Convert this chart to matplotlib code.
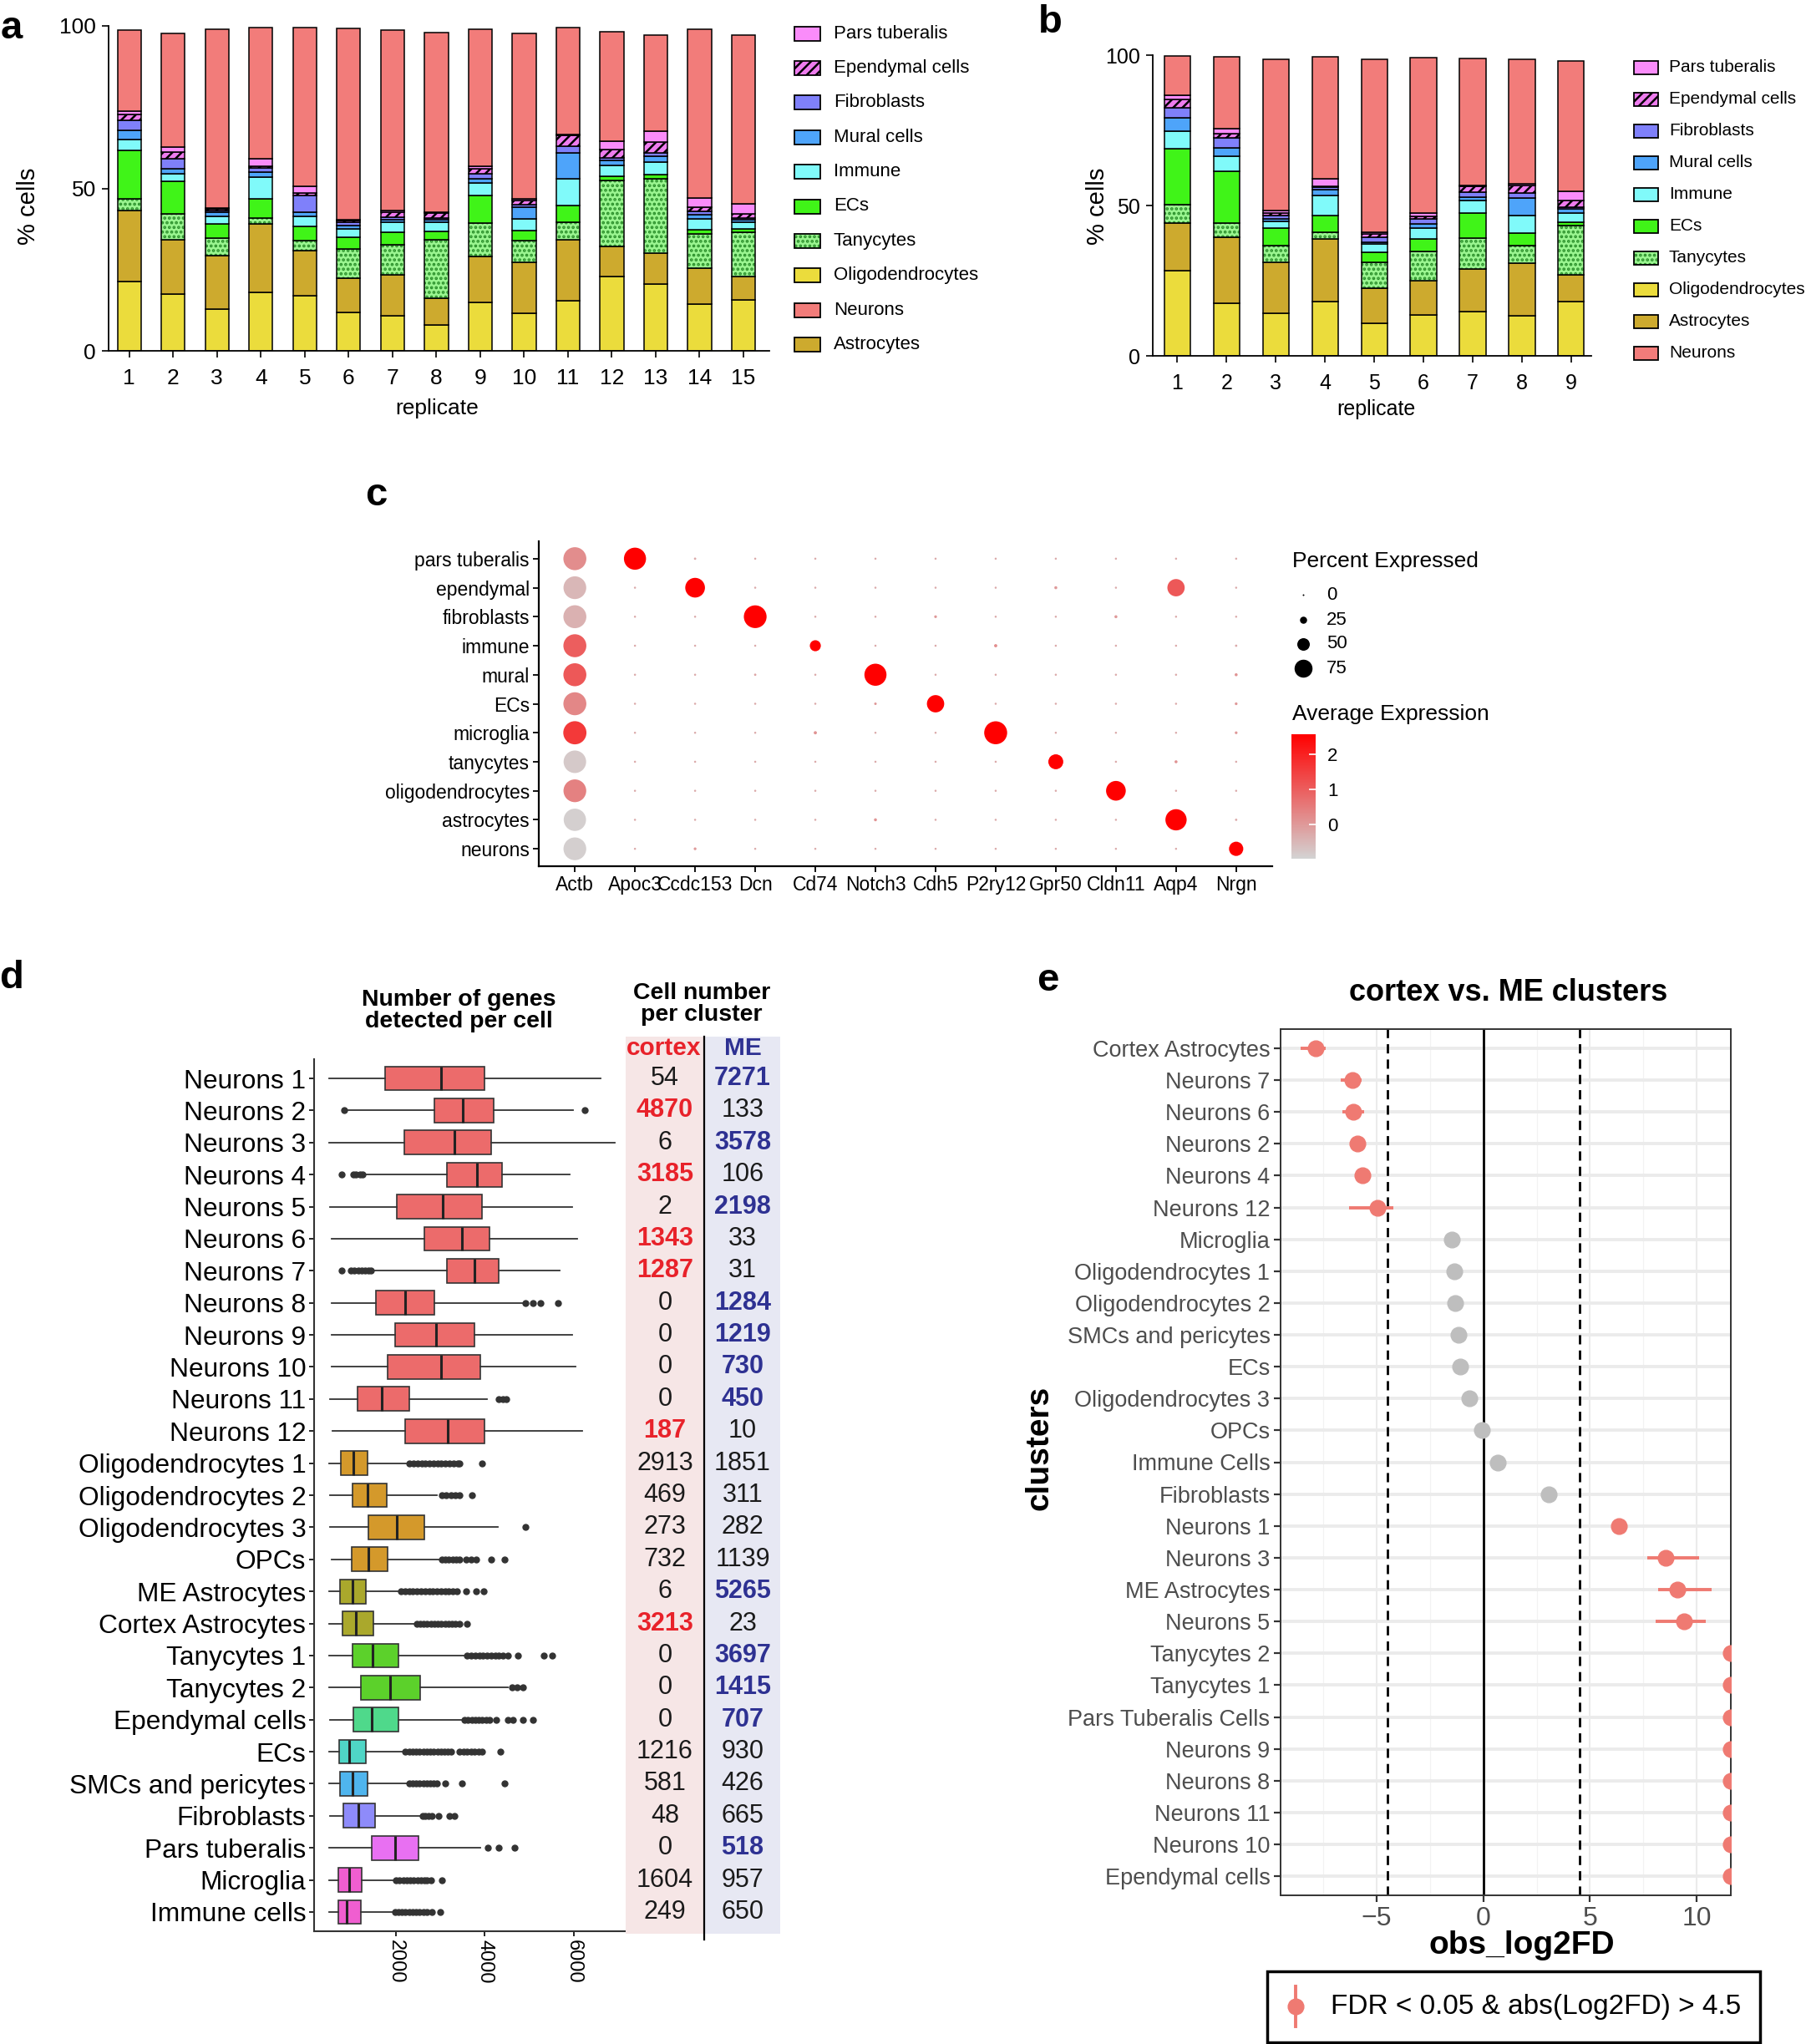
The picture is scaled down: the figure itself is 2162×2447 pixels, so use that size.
import numpy as np
import matplotlib
matplotlib.use('Agg')
import matplotlib.pyplot as plt
from matplotlib.patches import Rectangle
from matplotlib.colors import LinearSegmentedColormap, Normalize
from matplotlib.cm import ScalarMappable
import matplotlib.transforms as mtransforms

plt.rcParams['font.family'] = ['Liberation Sans', 'DejaVu Sans']
plt.rcParams['hatch.linewidth'] = 1.8

# ---------------- data: panel a (15 replicates, % cells per type) ----------------
a_oligo = [21.4, 17.4, 12.9, 17.9, 16.9, 11.8, 10.8, 7.9, 14.8, 11.6, 15.4, 22.9, 20.5, 14.5, 15.8]
a_astro = [21.8, 16.8, 16.3, 21.2, 14.0, 10.5, 12.7, 8.2, 14.3, 15.6, 18.9, 9.2, 9.7, 11.0, 7.1]
a_tany = [3.6, 7.9, 5.4, 1.9, 3.1, 9.0, 9.1, 18.1, 10.2, 6.8, 5.4, 20.3, 22.8, 10.4, 13.7]
a_ecs = [14.8, 10.1, 4.5, 5.8, 4.3, 3.6, 4.0, 2.6, 8.4, 3.0, 5.0, 1.3, 1.3, 1.3, 1.0]
a_immune = [3.4, 2.4, 2.4, 6.6, 3.0, 2.7, 3.0, 2.8, 4.0, 3.7, 8.3, 3.4, 3.8, 3.5, 2.0]
a_mural = [2.9, 1.4, 1.1, 1.7, 1.5, 1.0, 0.8, 0.7, 1.3, 3.6, 7.8, 1.4, 1.8, 1.2, 0.8]
a_fibro = [3.1, 3.1, 0.6, 1.1, 5.1, 0.9, 0.8, 0.6, 1.5, 0.8, 2.1, 1.0, 1.0, 1.1, 0.5]
a_epend = [1.7, 2.0, 0.4, 0.5, 0.6, 0.5, 1.4, 1.4, 1.6, 1.3, 3.4, 2.5, 3.3, 1.1, 1.2]
a_pars = [1.0, 1.7, 0.4, 2.3, 2.2, 0.3, 0.6, 0.5, 0.6, 0.4, 0.4, 2.4, 3.4, 2.9, 3.2]
a_neurons = [24.9, 34.8, 55.1, 40.6, 48.9, 58.9, 55.6, 55.1, 42.3, 50.9, 32.7, 33.8, 29.7, 52.0, 52.0]

# ---------------- data: panel b (9 replicates) ----------------
b_oligo = [28.3, 17.5, 14.1, 18.0, 10.9, 13.6, 14.7, 13.4, 18.0]
b_astro = [15.9, 21.9, 17.0, 21.0, 11.5, 11.3, 14.3, 17.3, 8.9]
b_tany = [6.2, 4.8, 5.5, 2.0, 8.7, 9.9, 10.2, 6.0, 16.4]
b_ecs = [18.5, 17.1, 5.8, 5.7, 3.3, 4.2, 8.3, 4.1, 1.2]
b_immune = [5.8, 5.2, 2.3, 6.6, 2.7, 3.4, 4.1, 6.0, 3.0]
b_mural = [4.6, 2.8, 0.9, 2.0, 0.7, 1.6, 1.1, 5.7, 1.3]
b_fibro = [3.2, 3.1, 1.1, 0.9, 1.6, 1.6, 1.7, 1.6, 0.7]
b_epend = [2.8, 1.5, 0.8, 0.3, 1.2, 0.9, 2.1, 2.6, 2.1]
b_pars = [1.3, 1.7, 0.7, 2.5, 0.6, 1.0, 0.2, 0.4, 3.1]
b_neurons = [13.1, 23.8, 50.4, 40.5, 57.4, 51.6, 42.1, 41.4, 43.3]

a_legend = ['Pars tuberalis', 'Ependymal cells', 'Fibroblasts', 'Mural cells', 'Immune', 'ECs',
            'Tanycytes', 'Oligodendrocytes', 'Neurons', 'Astrocytes']
b_legend = ['Pars tuberalis', 'Ependymal cells', 'Fibroblasts', 'Mural cells', 'Immune', 'ECs',
            'Tanycytes', 'Oligodendrocytes', 'Astrocytes', 'Neurons']

# ---------------- data: panel c (dot plot) ----------------
c_rows = ['pars tuberalis', 'ependymal', 'fibroblasts', 'immune', 'mural', 'ECs', 'microglia',
          'tanycytes', 'oligodendrocytes', 'astrocytes', 'neurons']
c_genes = ['Actb', 'Apoc3', 'Ccdc153', 'Dcn', 'Cd74', 'Notch3', 'Cdh5', 'P2ry12', 'Gpr50',
           'Cldn11', 'Aqp4', 'Nrgn']
c_pct = [
    [98, 94, 3, 2, 2, 2, 2, 2, 2, 2, 2, 2],
    [97, 2, 83, 2, 2, 2, 2, 2, 6, 2, 72, 2],
    [98, 2, 2, 97, 2, 2, 5, 2, 2, 6, 2, 2],
    [98, 2, 2, 2, 43, 2, 2, 7, 2, 2, 2, 3],
    [98, 2, 2, 3, 2, 94, 2, 2, 2, 2, 2, 6],
    [98, 2, 2, 2, 2, 4, 72, 2, 2, 2, 2, 5],
    [99, 2, 2, 2, 7, 2, 2, 98, 2, 2, 2, 5],
    [96, 2, 2, 2, 2, 2, 2, 2, 61, 2, 6, 2],
    [97, 2, 2, 2, 2, 2, 2, 2, 2, 83, 2, 2],
    [95, 2, 2, 2, 2, 6, 2, 2, 2, 2, 90, 3],
    [97, 2, 5, 2, 2, 2, 2, 2, 2, 2, 2, 58],
]
c_avg = [
    [0.2, 2.6, -0.3, -0.3, -0.3, -0.3, -0.3, -0.3, -0.3, -0.3, -0.3, -0.3],
    [-0.5, -0.3, 2.6, -0.3, -0.3, -0.3, -0.3, -0.3, 0.0, -0.3, 1.1, -0.3],
    [-0.4, -0.3, -0.3, 2.6, -0.3, -0.3, 0.0, -0.3, -0.3, 0.0, -0.3, -0.3],
    [1.0, -0.3, -0.3, -0.3, 2.6, -0.3, -0.3, 0.2, -0.3, -0.3, -0.3, -0.3],
    [1.1, -0.3, -0.3, -0.2, -0.3, 2.6, -0.3, -0.3, -0.3, -0.3, -0.3, 0.1],
    [0.3, -0.3, -0.3, -0.3, -0.3, 0.0, 2.6, -0.3, -0.3, -0.3, -0.3, 0.0],
    [1.6, -0.3, -0.3, -0.3, 0.1, -0.3, -0.3, 2.6, -0.3, -0.3, -0.3, 0.0],
    [-0.8, -0.3, -0.3, -0.3, -0.3, -0.3, -0.3, -0.3, 2.6, -0.3, 0.1, -0.3],
    [0.4, -0.3, -0.3, -0.3, -0.3, -0.3, -0.3, -0.3, -0.3, 2.6, -0.3, -0.3],
    [-0.9, -0.3, -0.3, -0.3, -0.3, 0.1, -0.3, -0.3, -0.3, -0.3, 2.6, -0.3],
    [-0.9, -0.3, 0.0, -0.3, -0.3, -0.3, -0.3, -0.3, -0.3, -0.3, -0.3, 2.6],
]

# ---------------- data: panel d (genes per cell boxplots + cell numbers) ----------------
d_names = ['Neurons 1', 'Neurons 2', 'Neurons 3', 'Neurons 4', 'Neurons 5', 'Neurons 6', 'Neurons 7',
           'Neurons 8', 'Neurons 9', 'Neurons 10', 'Neurons 11', 'Neurons 12', 'Oligodendrocytes 1',
           'Oligodendrocytes 2', 'Oligodendrocytes 3', 'OPCs', 'ME Astrocytes', 'Cortex Astrocytes',
           'Tanycytes 1', 'Tanycytes 2', 'Ependymal cells', 'ECs', 'SMCs and pericytes', 'Fibroblasts',
           'Pars tuberalis', 'Microglia', 'Immune cells']
d_lo = [480, 910, 480, 1290, 510, 540, 1450, 540, 540, 540, 510, 560, 490, 510, 510, 540, 480, 480,
        490, 490, 510, 490, 490, 510, 490, 490, 490]
d_q1 = [1750, 2860, 2190, 3140, 2010, 2640, 3150, 1540, 1970, 1810, 1130, 2210, 750, 1010, 1380, 990,
        740, 790, 1010, 1200, 1040, 720, 730, 810, 1440, 700, 690]
d_med = [3010, 3510, 3310, 3830, 3050, 3490, 3770, 2210, 2890, 3020, 1680, 3170, 1030, 1350, 2020, 1370,
         1010, 1090, 1470, 1860, 1440, 940, 1010, 1150, 1980, 940, 880]
d_q3 = [4000, 4190, 4140, 4380, 3930, 4100, 4320, 2870, 3760, 3900, 2300, 4000, 1350, 1780, 2630, 1810,
        1310, 1490, 2060, 2550, 2050, 1310, 1360, 1530, 2500, 1220, 1200]
d_hi = [6610, 5980, 6920, 5910, 5970, 6080, 5680, 4860, 5970, 6040, 4040, 6200, 2230, 2910, 4290, 3030,
        2110, 2460, 3600, 4510, 3540, 2210, 2290, 2590, 3890, 2000, 1970]
d_fliers = [
    [],
    [830, 6250],
    [],
    [780, 1030, 1100, 1180, 1250],
    [],
    [],
    [780, 980, 1060, 1140, 1220, 1300, 1380, 1430],
    [4920, 5090, 5260, 5640],
    [],
    [],
    [4320, 4400, 4490],
    [],
    [2300, 2390, 2480, 2570, 2660, 2750, 2840, 2930, 3020, 3110, 3200, 3290, 3380, 3430, 3940],
    [3030, 3130, 3230, 3330, 3430, 3710],
    [4920],
    [3030, 3110, 3190, 3270, 3350, 3430, 3580, 3690, 3810, 4150, 4440],
    [2110, 2200, 2290, 2380, 2470, 2560, 2650, 2740, 2830, 2920, 3010, 3100, 3190, 3280, 3370,
     3580, 3810, 3980],
    [2460, 2540, 2620, 2700, 2780, 2860, 2940, 3020, 3100, 3180, 3260, 3340, 3430, 3600],
    [3600, 3690, 3780, 3870, 3960, 4050, 4140, 4230, 4320, 4410, 4510, 4740, 5320, 5520],
    [4610, 4730, 4860],
    [3540, 3620, 3700, 3780, 3860, 3940, 4030, 4110, 4260, 4510, 4630, 4860, 5090],
    [2210, 2290, 2370, 2450, 2530, 2610, 2690, 2770, 2850, 2930, 3010, 3090, 3170, 3230,
     3430, 3520, 3600, 3690, 3770, 3860, 3940, 4340],
    [2290, 2370, 2450, 2530, 2610, 2690, 2770, 2850, 2910, 3110, 3490, 4440],
    [2590, 2660, 2730, 2800, 2950, 3200, 3310],
    [4060, 4320, 4660],
    [2000, 2080, 2160, 2240, 2320, 2400, 2480, 2560, 2640, 2700, 2780, 3030],
    [1970, 2050, 2130, 2210, 2290, 2370, 2450, 2530, 2610, 2690, 2800, 2990],
]
d_colors = ['#EC6B6B'] * 12 + ['#D4992B'] * 4 + ['#AAA82C'] * 2 + ['#5CD12B'] * 2 + \
           ['#4FD98B', '#4FD6C6', '#4FB5EE', '#8E8BFA', '#E870F2', '#F05ED0', '#F05ED0']
d_cortex = [54, 4870, 6, 3185, 2, 1343, 1287, 0, 0, 0, 0, 187, 2913, 469, 273, 732, 6, 3213, 0, 0, 0,
            1216, 581, 48, 0, 1604, 249]
d_me = [7271, 133, 3578, 106, 2198, 33, 31, 1284, 1219, 730, 450, 10, 1851, 311, 282, 1139, 5265, 23,
        3697, 1415, 707, 930, 426, 665, 518, 957, 650]
d_cortex_hl = [0, 1, 0, 1, 0, 1, 1, 0, 0, 0, 0, 1, 0, 0, 0, 0, 0, 1, 0, 0, 0, 0, 0, 0, 0, 0, 0]
d_me_hl = [1, 0, 1, 0, 1, 0, 0, 1, 1, 1, 1, 0, 0, 0, 0, 0, 1, 0, 1, 1, 1, 0, 0, 0, 1, 0, 0]

# ---------------- data: panel e (cortex vs ME) ----------------
e_clusters = ['Cortex Astrocytes', 'Neurons 7', 'Neurons 6', 'Neurons 2', 'Neurons 4', 'Neurons 12',
              'Microglia', 'Oligodendrocytes 1', 'Oligodendrocytes 2', 'SMCs and pericytes', 'ECs',
              'Oligodendrocytes 3', 'OPCs', 'Immune Cells', 'Fibroblasts', 'Neurons 1', 'Neurons 3',
              'ME Astrocytes', 'Neurons 5', 'Tanycytes 2', 'Tanycytes 1', 'Pars Tuberalis Cells',
              'Neurons 9', 'Neurons 8', 'Neurons 11', 'Neurons 10', 'Ependymal cells']
e_log2fd = [-7.85, -6.12, -6.08, -5.91, -5.65, -4.96, -1.47, -1.37, -1.30, -1.16, -1.09, -0.66, -0.07,
            0.66, 3.07, 6.36, 8.53, 9.10, 9.41, 11.6, 11.6, 11.6, 11.6, 11.6, 11.6, 11.6, 11.6]
e_lo = [-8.56, -6.67, -6.60, -5.95, -5.70, -6.29, -1.47, -1.37, -1.30, -1.16, -1.09, -0.66, -0.07,
        0.66, 3.07, 6.30, 7.68, 8.18, 8.06, 11.6, 11.6, 11.6, 11.6, 11.6, 11.6, 11.6, 11.6]
e_hi = [-7.38, -5.72, -5.60, -5.87, -5.60, -4.23, -1.47, -1.37, -1.30, -1.16, -1.09, -0.66, -0.07,
        0.66, 3.07, 6.42, 10.12, 10.71, 10.43, 11.6, 11.6, 11.6, 11.6, 11.6, 11.6, 11.6, 11.6]

# ---------------- styles ----------------
type_style = {
    'Pars tuberalis': dict(color='#FA8CFA'),
    'Ependymal cells': dict(color='#EE7CEE', hatch='///'),
    'Fibroblasts': dict(color='#7F80FA'),
    'Mural cells': dict(color='#4EA4FA'),
    'Immune': dict(color='#80FAFA'),
    'ECs': dict(color='#40F418'),
    'Tanycytes': dict(color='#9AF590', hatch='...'),
    'Oligodendrocytes': dict(color='#EBDC3C'),
    'Astrocytes': dict(color='#CDAA2E'),
    'Neurons': dict(color='#F27C7A'),
}
TANY_DOT = '#2A8F2A'

W, H = 2162, 2447
fig = plt.figure(figsize=(W / 100, H / 100), dpi=100)


def add_ax(l, t, r, b, **kw):
    return fig.add_axes([l / W, 1 - b / H, (r - l) / W, (b - t) / H], **kw)


# overlay in pixel coordinates for labels and legends
ov = fig.add_axes([0, 0, 1, 1], zorder=10)
ov.set_xlim(0, W)
ov.set_ylim(H, 0)
ov.axis('off')
ov.patch.set_alpha(0)


def draw_key(x, y, w, h, name):
    st = type_style[name]
    if name == 'Tanycytes':
        ov.add_patch(Rectangle((x, y - h / 2), w, h, facecolor=st['color'], edgecolor=TANY_DOT,
                               hatch=st['hatch'], lw=0))
        ov.add_patch(Rectangle((x, y - h / 2), w, h, fill=False, edgecolor='black', lw=1.3))
    else:
        ov.add_patch(Rectangle((x, y - h / 2), w, h, facecolor=st['color'], edgecolor='black',
                               hatch=st.get('hatch'), lw=1.3))


def stacked(ax, layers, width):
    n = len(layers[0][1])
    x = np.arange(1, n + 1)
    bottom = np.zeros(n)
    for name, vals in layers:
        vals = np.asarray(vals, dtype=float)
        st = type_style[name]
        if name == 'Tanycytes':
            ax.bar(x, vals, width, bottom=bottom, color=st['color'], edgecolor=TANY_DOT,
                   hatch=st['hatch'], linewidth=0)
            ax.bar(x, vals, width, bottom=bottom, fill=False, edgecolor='black', linewidth=1.1)
        else:
            ax.bar(x, vals, width, bottom=bottom, color=st['color'], edgecolor='black',
                   hatch=st.get('hatch'), linewidth=1.1)
        bottom += vals
    ax.set_ylim(0, 100)
    ax.set_yticks([0, 50, 100])
    ax.set_xticks(x)
    for s in ['top', 'right']:
        ax.spines[s].set_visible(False)
    for s in ['left', 'bottom']:
        ax.spines[s].set_linewidth(1.3)
    ax.tick_params(length=6, width=1.2)


# ---------------- panel a ----------------
ax_a = add_ax(130, 31, 921, 420)
stacked(ax_a, [('Oligodendrocytes', a_oligo), ('Astrocytes', a_astro), ('Tanycytes', a_tany),
               ('ECs', a_ecs), ('Immune', a_immune), ('Mural cells', a_mural),
               ('Fibroblasts', a_fibro), ('Ependymal cells', a_epend),
               ('Pars tuberalis', a_pars), ('Neurons', a_neurons)], 0.54)
ax_a.set_xlim(0.53, 15.59)
ax_a.tick_params(axis='x', labelsize=19, pad=9)
ax_a.tick_params(axis='y', labelsize=19, pad=5)
ov.text(34, 247, '% cells', rotation=90, ha='center', va='center', fontsize=21)
ov.text(523, 489, 'replicate', ha='center', va='center', fontsize=19)
for i, name in enumerate(a_legend):
    y = 40 + i * 41.4
    draw_key(951, y, 31, 17, name)
    ov.text(998, y, name, ha='left', va='center', fontsize=16)

# ---------------- panel b ----------------
ax_b = add_ax(1380, 66, 1905, 426)
stacked(ax_b, [('Oligodendrocytes', b_oligo), ('Astrocytes', b_astro), ('Tanycytes', b_tany),
               ('ECs', b_ecs), ('Immune', b_immune), ('Mural cells', b_mural),
               ('Fibroblasts', b_fibro), ('Ependymal cells', b_epend),
               ('Pars tuberalis', b_pars), ('Neurons', b_neurons)], 0.53)
ax_b.set_xlim(0.5, 9.41)
ax_b.tick_params(axis='x', labelsize=18, pad=9)
ax_b.tick_params(axis='y', labelsize=18, pad=5)
ov.text(1314, 247, '% cells', rotation=90, ha='center', va='center', fontsize=21)
ov.text(1647, 490, 'replicate', ha='center', va='center', fontsize=18)
for i, name in enumerate(b_legend):
    y = 81 + i * 38.0
    draw_key(1956, y, 29, 16, name)
    ov.text(1998, y, name, ha='left', va='center', fontsize=15)

# ---------------- panel c ----------------
ax_c = add_ax(645, 648, 1523, 1037)
pct = np.array(c_pct, dtype=float)
avg = np.array(c_avg, dtype=float)
gx, gy = np.meshgrid(np.arange(len(c_genes)), np.arange(len(c_rows)))
cmap = LinearSegmentedColormap.from_list('grey_red', ['#D3D3D3', '#FF0000'])
norm = Normalize(-0.98, 2.57)


def dot_area(p):
    d_px = 2 + 0.26 * np.asarray(p, dtype=float)
    return (d_px * 0.72) ** 2


ax_c.scatter(gx.ravel(), gy.ravel(), s=dot_area(pct.ravel()), c=np.clip(avg.ravel(), -0.98, 2.57),
             cmap=cmap, norm=norm, linewidths=0, zorder=3)
ax_c.set_xlim(-0.6, len(c_genes) - 0.4)
ax_c.set_ylim(len(c_rows) - 0.4, -0.6)
ax_c.set_xticks(range(len(c_genes)), c_genes, fontsize=16.5)
ax_c.set_yticks(range(len(c_rows)), c_rows, fontsize=16.5)
for s in ['top', 'right']:
    ax_c.spines[s].set_visible(False)
for s in ['left', 'bottom']:
    ax_c.spines[s].set_linewidth(1.6)
ax_c.tick_params(length=5, width=1.3, pad=3)

ov.text(1547, 672, 'Percent Expressed', ha='left', va='center', fontsize=19)
for v, y in zip([0, 25, 50, 75], [712, 742, 771, 800]):
    ov.scatter([1560], [y], s=dot_area([v]), color='black', linewidths=0)
    ov.text(1588, y, str(v), ha='left', va='center', fontsize=16)
ov.text(1547, 855, 'Average Expression', ha='left', va='center', fontsize=19)
cax = add_ax(1546, 879, 1575, 1028)
cb = fig.colorbar(ScalarMappable(norm=norm, cmap=cmap), cax=cax, ticks=[0, 1, 2])
cb.outline.set_visible(False)
cax.tick_params(direction='in', color='white', length=6, width=1.2, labelsize=16, pad=10)

# ---------------- panel d ----------------
ax_d = add_ax(376, 1268, 752, 2312)
nd = len(d_names)
stats = [dict(med=d_med[i], q1=d_q1[i], q3=d_q3[i], whislo=d_lo[i], whishi=d_hi[i],
              fliers=d_fliers[i]) for i in range(nd)]
bp = ax_d.bxp(stats, positions=np.arange(nd), orientation='horizontal', widths=0.75,
              patch_artist=True, showcaps=False,
              boxprops=dict(edgecolor='#333333', linewidth=1.2),
              whiskerprops=dict(color='#333333', linewidth=1.3),
              medianprops=dict(color='#222222', linewidth=2.2),
              flierprops=dict(marker='o', markersize=5, markerfacecolor='#333333',
                              markeredgecolor='#333333', linestyle='none'))
for patch, col in zip(bp['boxes'], d_colors):
    patch.set_facecolor(col)
ax_d.set_ylim(nd - 0.4, -0.6)
ax_d.set_xlim(150, 7230)
ax_d.set_yticks(range(nd), d_names, fontsize=22.8)
ax_d.set_xticks([2000, 4000, 6000], ['2000', '4000', '6000'], rotation=-90, fontsize=17)
for s in ['top', 'right']:
    ax_d.spines[s].set_visible(False)
for s in ['left', 'bottom']:
    ax_d.spines[s].set_linewidth(1.5)
    ax_d.spines[s].set_color('#333333')
ax_d.tick_params(length=4, width=1.2, pad=3)

ov.text(549, 1210, 'Number of genes\ndetected per cell', ha='center', va='center', fontsize=20.5,
        fontweight='bold', linespacing=1.0)
ov.text(840, 1202, 'Cell number\nper cluster', ha='center', va='center', fontsize=20.5,
        fontweight='bold', linespacing=1.0)
ov.add_patch(Rectangle((749, 1241), 94, 1074, facecolor='#F6E6E6', edgecolor='none', zorder=0))
ov.add_patch(Rectangle((843, 1241), 91, 1074, facecolor='#E7E8F3', edgecolor='none', zorder=0))
ov.plot([843, 843], [1241, 2322], color='black', lw=1.6)
ov.text(795, 1255, 'cortex', ha='center', va='center', fontsize=21.5, fontweight='bold', color='#E8222A')
ov.text(889, 1255, 'ME', ha='center', va='center', fontsize=21.5, fontweight='bold', color='#2E3192')
tr = mtransforms.blended_transform_factory(ov.transData, ax_d.transData)
for i in range(nd):
    ov.text(796, i, str(d_cortex[i]), transform=tr, ha='center', va='center', fontsize=22,
            color='#E8222A' if d_cortex_hl[i] else '#1A1A1A',
            fontweight='bold' if d_cortex_hl[i] else 'normal')
    ov.text(889, i, str(d_me[i]), transform=tr, ha='center', va='center', fontsize=22,
            color='#2E3192' if d_me_hl[i] else '#1A1A1A',
            fontweight='bold' if d_me_hl[i] else 'normal')

# ---------------- panel e ----------------
ax_e = add_ax(1533, 1232, 2072, 2269)
ne = len(e_clusters)
ye = np.arange(ne)
fd = np.array(e_log2fd)
lo = np.array(e_lo)
hi = np.array(e_hi)
sig = np.abs(fd) > 4.5
ax_e.set_xlim(-9.5, 11.6)
ax_e.set_ylim(ne - 0.4, -0.6)
ax_e.set_xticks([-5, 0, 5, 10])
ax_e.set_xticks([-7.5, -2.5, 2.5, 7.5], minor=True)
ax_e.set_yticks(ye, e_clusters, fontsize=19.5, color='#4D4D4D')
ax_e.grid(axis='y', color='#EBEBEB', lw=2.8, zorder=0)
ax_e.grid(axis='x', which='major', color='#EBEBEB', lw=1.5, zorder=0)
ax_e.grid(axis='x', which='minor', color='#F2F2F2', lw=0.9, zorder=0)
ax_e.set_axisbelow(True)
ax_e.axvline(0, color='black', lw=2, zorder=1)
for v in (-4.5, 4.5):
    ax_e.axvline(v, color='black', lw=2, ls=(0, (4, 2.6)), zorder=1)
ax_e.errorbar(fd[sig], ye[sig], xerr=[fd[sig] - lo[sig], hi[sig] - fd[sig]], fmt='o',
              color='#EF7A72', ms=13.5, elinewidth=2.8, capsize=0, zorder=3)
ax_e.plot(fd[~sig], ye[~sig], 'o', color='#BEBEBE', ms=13.5, zorder=3)
ax_e.tick_params(axis='x', which='major', labelsize=23, labelcolor='#4D4D4D', color='#333333',
                 length=6, width=1.6)
ax_e.tick_params(axis='x', which='minor', length=0)
ax_e.tick_params(axis='y', color='#333333', length=6, width=1.6, pad=3)
for s in ax_e.spines.values():
    s.set_color('#333333')
    s.set_linewidth(1.4)

ov.text(1806, 1189, 'cortex vs. ME clusters', ha='center', va='center', fontsize=26, fontweight='bold')
ov.text(1244, 1733, 'clusters', rotation=90, ha='center', va='center', fontsize=28, fontweight='bold')
ov.text(1822, 2329, 'obs_log2FD', ha='center', va='center', fontsize=28, fontweight='bold')
ov.add_patch(Rectangle((1517, 2360), 590, 85, fill=False, edgecolor='black', lw=2.5))
ov.plot([1551, 1551], [2378, 2426], color='#EF7A72', lw=2.8)
ov.plot([1551], [2402], 'o', color='#EF7A72', ms=13.5)
ov.text(1593, 2402, 'FDR < 0.05 & abs(Log2FD) > 4.5', ha='left', va='center', fontsize=24)

# ---------------- panel letters ----------------
for lab, (x, y) in zip('abcde', [(14, 34), (1257, 27), (450, 593), (14, 1171), (1254, 1174)]):
    ov.text(x, y, lab, ha='center', va='center', fontsize=34, fontweight='bold')

fig.savefig('out.png', dpi=100)
